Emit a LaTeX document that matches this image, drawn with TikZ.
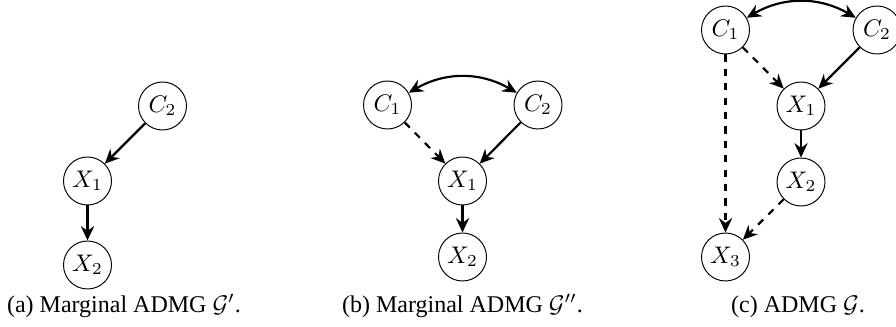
\documentclass[tikz,border=0pt]{standalone}
\usepackage{fontspec}
\setmainfont{Liberation Serif}
\usetikzlibrary{arrows.meta}
\tikzset{
  var/.style={circle, draw, line width=0.4pt, minimum size=20pt, inner sep=0pt},
  edge/.style={line width=0.9pt, -{Stealth[length=6pt, width=5.5pt, inset=2pt]}},
  biedge/.style={line width=0.9pt, {Stealth[length=6pt, width=5.5pt, inset=2pt]}-{Stealth[length=6pt, width=5.5pt, inset=2pt]}},
  captext/.style={anchor=base, inner sep=0pt, font=\fontsize{10pt}{12pt}\selectfont}
}
\begin{document}
\begin{tikzpicture}[x=0.41667pt, y=-0.41667pt]
\useasboundingbox (0,0) rectangle (896,327);
% (a)
\node[var] (aC2) at (162.5,106) {$C_2$};
\node[var] (aX1) at (87.5,181) {$X_1$};
\node[var] (aX2) at (87.5,265) {$X_2$};
\draw[edge] (aC2) -- (aX1);
\draw[edge] (aX1) -- (aX2);
\node[captext] (acap) at (124,312) {(a) Marginal ADMG $\mathcal{G}'$.};
% (b)
\node[var] (bC1) at (387.5,105) {$C_1$};
\node[var] (bC2) at (538,105) {$C_2$};
\node[var] (bX1) at (462.5,181) {$X_1$};
\node[var] (bX2) at (462.5,257) {$X_2$};
\draw[biedge] (bC1) to[bend left=30] (bC2);
\draw[edge, dashed] (bC1) -- (bX1);
\draw[edge] (bC2) -- (bX1);
\draw[edge] (bX1) -- (bX2);
\node[captext] (bcap) at (462.5,312) {(b) Marginal ADMG $\mathcal{G}''$.};
% (c)
\node[var] (cC1) at (725.5,30) {$C_1$};
\node[var] (cC2) at (877,30) {$C_2$};
\node[var] (cX1) at (801,106) {$X_1$};
\node[var] (cX2) at (801,182) {$X_2$};
\node[var] (cX3) at (725.5,257) {$X_3$};
\draw[biedge] (cC1) to[bend left=30] (cC2);
\draw[edge, dashed] (cC1) -- (cX1);
\draw[edge] (cC2) -- (cX1);
\draw[edge] (cX1) -- (cX2);
\draw[edge, dashed] (cC1) -- (cX3);
\draw[edge, dashed] (cX2) -- (cX3);
\node[captext] (ccap) at (798,312) {(c) ADMG $\mathcal{G}$.};
\end{tikzpicture}
\end{document}
